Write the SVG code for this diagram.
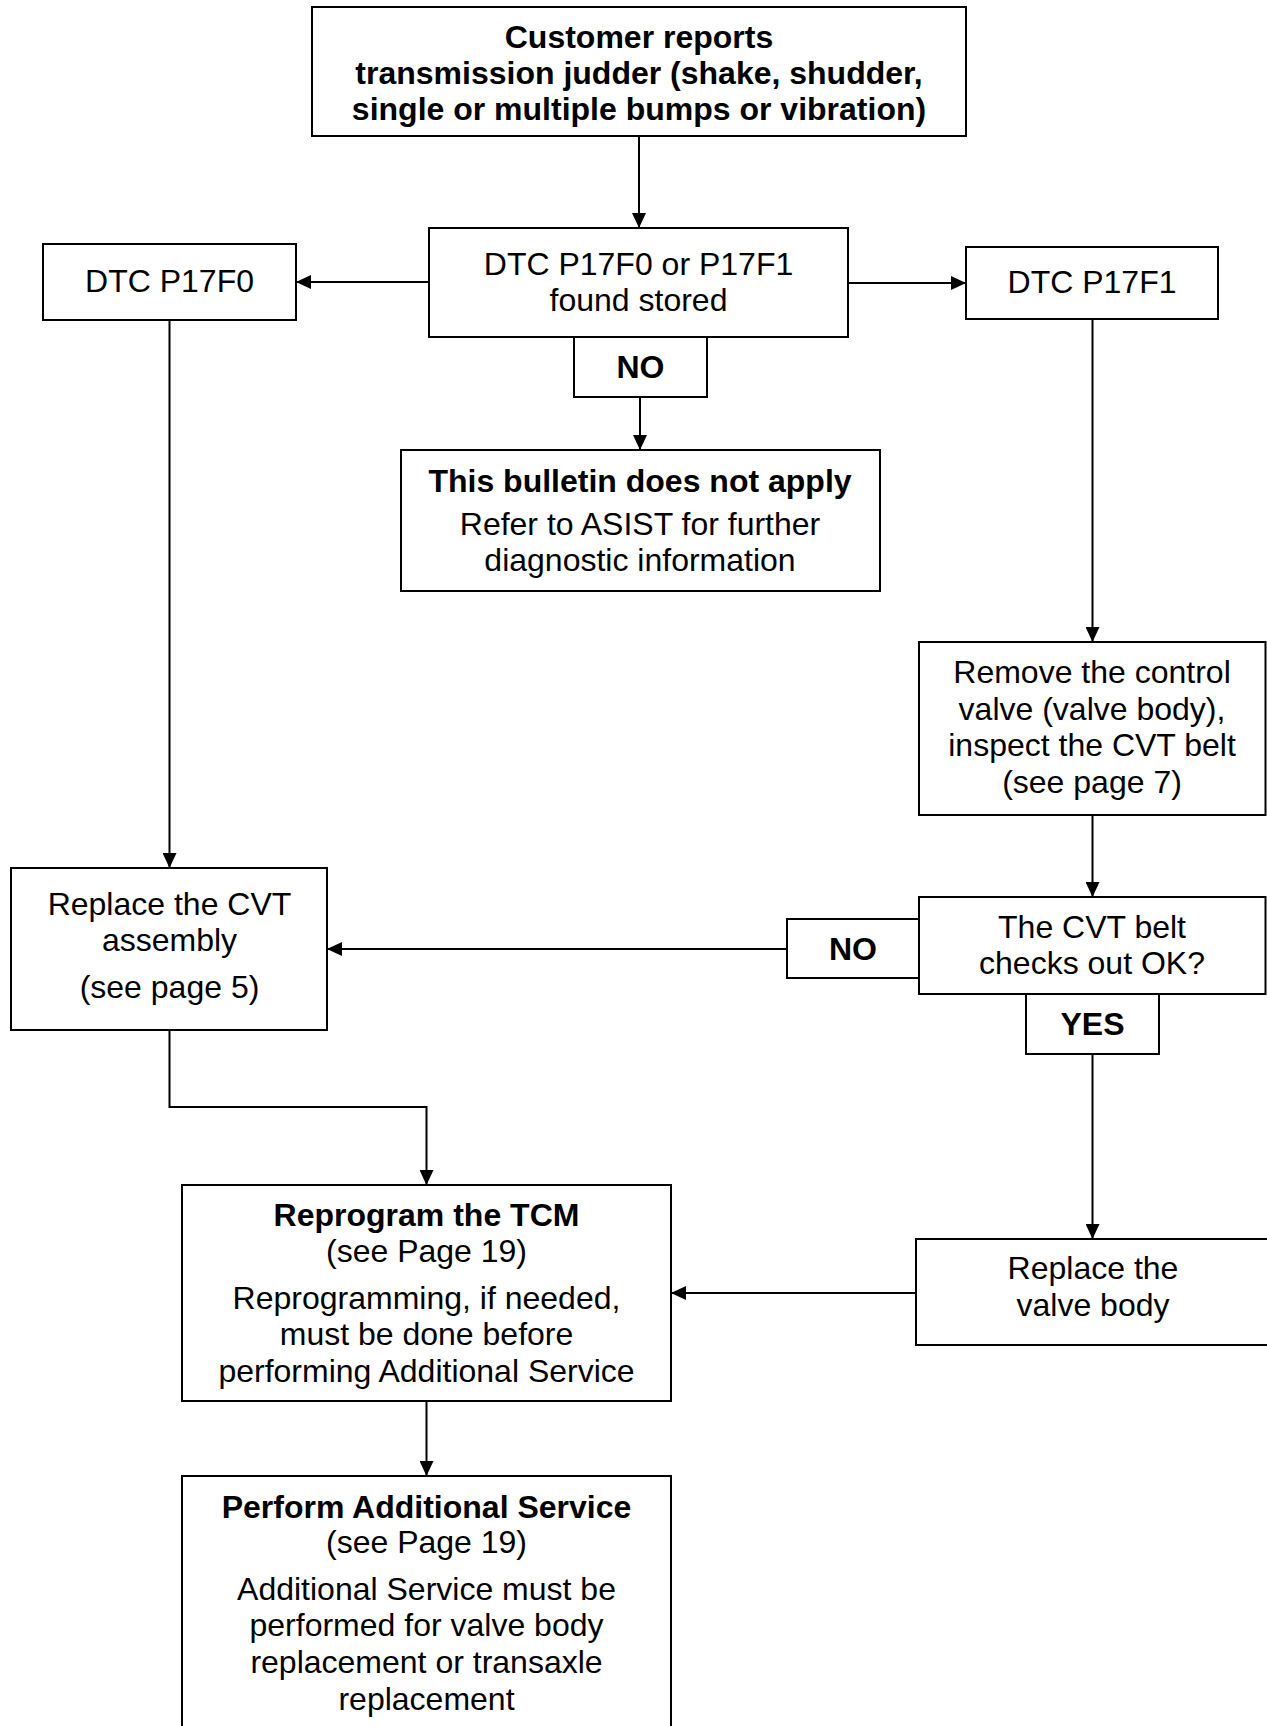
<svg xmlns="http://www.w3.org/2000/svg" width="1267" height="1726" viewBox="0 0 1267 1726">
<style>
  .box { fill: #ffffff; stroke: #000000; stroke-width: 2; }
  .t { font-family: "Liberation Sans", Arial, sans-serif; font-size: 32px; fill: #000000; text-anchor: middle; }
  .b { font-weight: bold; }
  .c { fill: none; stroke: #000000; stroke-width: 2; marker-end: url(#arr); }
</style>
<defs>
  <marker id="arr" markerUnits="userSpaceOnUse" markerWidth="16" markerHeight="14" refX="15" refY="7" orient="auto">
    <path d="M0,0 L15,7 L0,14 z" fill="#000000"/>
  </marker>
</defs>
<rect x="0" y="0" width="1267" height="1726" fill="#ffffff"/>

<g id="connectors">
  <path class="c" d="M639,136 V228"/>
  <path class="c" d="M429,282 H296"/>
  <path class="c" d="M848,283 H966"/>
  <path class="c" d="M640,397 V450"/>
  <path class="c" d="M169.5,320 V868"/>
  <path class="c" d="M1092.5,319 V642"/>
  <path class="c" d="M1092.5,815 V897"/>
  <path class="c" d="M787,949 H327"/>
  <path class="c" d="M1092.5,1054 V1239"/>
  <path class="c" d="M169.5,1030 V1107 H426.5 V1185"/>
  <path class="c" d="M916,1293 H671"/>
  <path class="c" d="M426.5,1401 V1476"/>
</g>

<g id="n_customer">
  <rect class="box" x="312" y="7" width="654" height="129"/>
  <text class="t b" x="639" y="48">Customer reports</text>
  <text class="t b" x="639" y="84">transmission judder (shake, shudder,</text>
  <text class="t b" x="639" y="120">single or multiple bumps or vibration)</text>
</g>

<g id="n_dtc">
  <rect class="box" x="429" y="228" width="419" height="109"/>
  <text class="t" x="638.5" y="275">DTC P17F0 or P17F1</text>
  <text class="t" x="638.5" y="311">found stored</text>
</g>

<g id="n_p17f0">
  <rect class="box" x="43" y="244" width="253" height="76"/>
  <text class="t" x="169.5" y="292">DTC P17F0</text>
</g>

<g id="n_p17f1">
  <rect class="box" x="966" y="247" width="252" height="72"/>
  <text class="t" x="1092" y="293">DTC P17F1</text>
</g>

<g id="l_no1">
  <rect class="box" x="574" y="337" width="133" height="60"/>
  <text class="t b" x="640.5" y="378">NO</text>
</g>

<g id="n_bulletin">
  <rect class="box" x="401" y="450" width="479" height="141"/>
  <text class="t b" x="640" y="492">This bulletin does not apply</text>
  <text class="t" x="640" y="535">Refer to ASIST for further</text>
  <text class="t" x="640" y="571">diagnostic information</text>
</g>

<g id="n_remove">
  <rect class="box" x="919" y="642" width="346.5" height="173"/>
  <text class="t" x="1092" y="683">Remove the control</text>
  <text class="t" x="1092" y="720">valve (valve body),</text>
  <text class="t" x="1092" y="756">inspect the CVT belt</text>
  <text class="t" x="1092" y="793">(see page 7)</text>
</g>

<g id="n_cvtbelt">
  <rect class="box" x="919" y="897" width="346.5" height="97"/>
  <text class="t" x="1092" y="938">The CVT belt</text>
  <text class="t" x="1092" y="974">checks out OK?</text>
</g>

<g id="l_no2">
  <rect class="box" x="787" y="919" width="132" height="59"/>
  <text class="t b" x="853" y="960">NO</text>
</g>

<g id="l_yes">
  <rect class="box" x="1026" y="994" width="133" height="60"/>
  <text class="t b" x="1092.5" y="1035">YES</text>
</g>

<g id="n_replacecvt">
  <rect class="box" x="11" y="868" width="316" height="162"/>
  <text class="t" x="169.5" y="915">Replace the CVT</text>
  <text class="t" x="169.5" y="951">assembly</text>
  <text class="t" x="169.5" y="998">(see page 5)</text>
</g>

<g id="n_valvebody">
  <rect class="box" x="916" y="1239" width="360" height="106"/>
  <text class="t" x="1093" y="1279">Replace the</text>
  <text class="t" x="1093" y="1316">valve body</text>
</g>

<g id="n_reprogram">
  <rect class="box" x="182" y="1185" width="489" height="216"/>
  <text class="t b" x="426.5" y="1226">Reprogram the TCM</text>
  <text class="t" x="426.5" y="1262">(see Page 19)</text>
  <text class="t" x="426.5" y="1309">Reprogramming, if needed,</text>
  <text class="t" x="426.5" y="1345">must be done before</text>
  <text class="t" x="426.5" y="1382">performing Additional Service</text>
</g>

<g id="n_perform">
  <rect class="box" x="182" y="1476" width="489" height="270"/>
  <text class="t b" x="426.5" y="1518">Perform Additional Service</text>
  <text class="t" x="426.5" y="1553">(see Page 19)</text>
  <text class="t" x="426.5" y="1600">Additional Service must be</text>
  <text class="t" x="426.5" y="1636">performed for valve body</text>
  <text class="t" x="426.5" y="1673">replacement or transaxle</text>
  <text class="t" x="426.5" y="1710">replacement</text>
</g>
</svg>
